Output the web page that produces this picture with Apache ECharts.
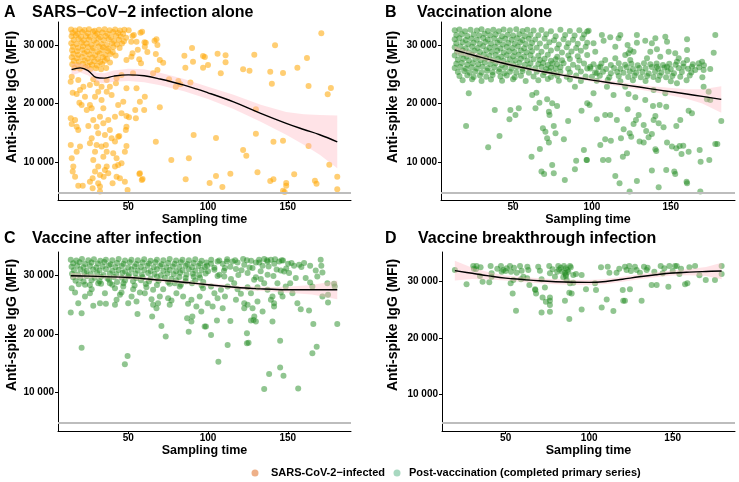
<!DOCTYPE html>
<html>
<head>
<meta charset="utf-8">
<script src="https://cdn.jsdelivr.net/npm/echarts@6/dist/echarts.min.js"></script>
<style>html,body{margin:0;padding:0;background:#fff;}#chart{width:739px;height:482px;}</style>
</head>
<body>
<div id="chart"></div>
<script>
// ---------- tick labels ----------
const xTicks = [50, 100, 150];
const yTicks = [10000, 20000, 30000];
const yTickLabels = ['10 000', '20 000', '30 000'];
const lodLevel = 4880;

const panelLetters = ['A', 'B', 'C', 'D'];
const panelTitles = ['SARS\u2212CoV\u22122 infection alone', 'Vaccination alone', 'Vaccine after infection', 'Vaccine breakthrough infection'];
const legendNames = ['SARS-CoV-2\u2212infected', 'Post-vaccination (completed primary series)'];

// ---------- Panel A: SARS-CoV-2 infection alone ----------
const aPoints = [
[14.2,32650],[16.8,32480],[19.5,32700],[22.6,32550],[25.4,32690],[28.9,32420],[31.7,32610],[35.2,32700],[38.4,32500],[41.8,32660],[44.9,32450],[47.6,32620],[50.3,32530],
[15.1,32080],[18.3,31950],[21.2,32200],[24.7,32010],[27.9,32250],[30.6,31980],[33.8,32150],[37.1,31920],[40.5,32230],[43.7,32050],[46.8,31900],
[14.5,31480],[17.2,31600],[20.4,31350],[23.5,31550],[26.1,31400],[29.4,31620],[32.6,31380],[35.9,31520],[39.2,31300],[42.4,31580],[45.3,31450],[48.7,31250],
[15.8,30870],[18.9,31020],[22.1,30800],[25.3,30950],[28.5,30750],[31.4,31050],[34.7,30820],[37.8,30970],[41.1,30700],[44.2,30900],[47.3,30650],
[14.3,30300],[17.6,30150],[20.8,30400],[23.9,30250],[26.9,30050],[30.1,30350],[33.3,30180],[36.6,30020],[39.8,30300],[42.9,30100],[46.1,30250],
[15.4,29700],[18.6,29550],[21.7,29800],[24.8,29650],[28.1,29480],[31.5,29750],[34.4,29600],[37.6,29400],[40.7,29680],[44.6,29500],
[14.8,29100],[17.9,28950],[21.3,29200],[24.2,28900],[27.4,29050],[30.8,28850],[33.9,29150],[37.2,28980],[40.3,28800],
[15.6,28500],[18.8,28350],[22.4,28600],[25.7,28400],[29.2,28250],[32.1,28550],[35.6,28300],[38.9,28450],[42.1,28200],
[14.6,27900],[17.7,27750],[21.0,27950],[24.4,27700],[27.6,27850],[31.0,27600],[34.1,27900],[36.8,27650],
[15.9,27300],[19.1,27150],[22.7,27350],[25.9,27050],[28.8,27250],[32.4,27100],[35.3,27300],[38.6,27000],
[14.9,26700],[18.2,26550],[21.6,26800],[24.6,26450],[27.3,26650],[30.4,26500],[33.6,26750],
[16.3,26100],[19.8,25950],[23.1,26200],[26.4,25900],[29.7,26050],[33.0,25850],[36.2,26100],
[53.5,31710],[58.7,32270],[51.9,30570],[60.2,30450],[66.5,30740],[56,29200],[52,28000],[58,26900],[62,28800],
[52.7,31530],[57.7,32100],[61,30390],[67.7,30970],[68.3,30000],[60.4,29720],[55.2,30560],[90,29490],[96.9,28120],[90.6,27160],
[85.2,28180],[85.8,26140],[96.9,26140],[69.8,27440],[71.9,26990],[67.3,28470],[52.7,28580],[56.9,27560],[48.9,27440],[53,25180],
[65.6,25180],[68.3,25740],[75.6,24150],[81.4,23870],[82.7,23300],[89,23600],[79.8,22900],[55.2,22620],[60.4,21190],[57.3,20340],
[69.8,19380],[54.4,18920],[60,18920],[48.9,17900],[50.5,17700],[54.8,17510],[48.9,16080],[48.5,15520],[91,14670],[44.4,14490],
[48.9,12790],[67.3,13520],[77,10400],[88,10690],[57,8020],[59,7170],[86,7110],[49.6,5290],[47.9,6710],[45.8,9840],[57.3,8130],[58.5,7000],
[171,31990],[142,29950],[106,28520],[111,28240],[111,27050],[129,28350],[162,27780],[100,26600],[98,27960],[108,25180],
[122,25860],[126,25620],[139,25450],[147,25230],[156,26140],[140,23410],[163,23010],[177,22670],[175,21600],[130,19040],
[105,14150],[130,14890],[141,13520],[147,13690],[122,12110],[124,11140],[163,12790],[176,9600],[105,7680],[114,8070],
[131,8310],[101,6480],[109,5800],[139,6830],[141,7110],[154,7970],[149,6480],[149,6030],[147,5170],[148,4960],
[167,6880],[168,6370],[181,7560],[181,5410],
[14.6,24600],[13.95,23750],[15.2,21880],[17.7,21650],[19.8,22330],[21.9,22900],[22.9,21200],[19.4,20170],[20.8,19780],[26,19780],
[27.1,19210],[24,18920],[29.2,21200],[31.2,22050],[33.3,20630],[34.4,19210],[32.3,17790],[28.1,17220],[25,16200],[30.2,16080],
[34.4,16650],[37.5,17220],[38.5,15520],[35.4,14660],[31.2,14950],[27.1,14100],[26,13250],[30.2,12960],[33.3,12680],[36,12960],
[14,17500],[14.6,16540],[17.7,16080],[18.7,15520],[16.7,17220],[14,12960],[19.8,12680],[17.7,11820],[14.6,10690],[15.6,9270],
[15.2,8420],[16.7,7560],[18.7,6030],[21.5,6030],[26,6710],[27.7,7280],[29.2,8420],[31.2,9270],[32.3,7850],[35.4,8700],
[34.6,7560],[36.5,9270],[37.5,8130],[32.3,5860],[32.3,5010],[31.2,6430],[27.7,5580],[42.7,10690],[43.7,9550],[41.7,9270],
[42.7,7560],[40.2,6430],[44.8,7280],[40.6,11540],[47.9,11820],[34.4,10970],[28.1,10400],[29.2,11820],[36.5,11820],[41.7,13530],
[43.7,14380],[39.6,14100],[41.7,17790],[45.8,18360],[43.7,19780],[46.9,20340],[48.9,22620],[38.5,22900],[36.5,22050],[39.6,21480],
[33.3,22900],[30.2,23470],[26,23180],[18.7,24040],[28.1,24150],[36.5,24040],[42.7,24320],[45.8,24890],[42.3,23470]
];
const aFitX  = [14.5, 20, 25, 30, 35, 41, 50, 60, 70, 85, 100, 116, 133, 149, 160, 170, 181];
const aFitY  = [25800, 26100, 25600, 24450, 24350, 24700, 24900, 24750, 24200, 23150, 21850, 20300, 18350, 16650, 15600, 14700, 13500];
const aFitHi = [26800, 26900, 26400, 25250, 25200, 25650, 25950, 25850, 25250, 24200, 22900, 21500, 19800, 18600, 18200, 18050, 18000];
const aFitLo = [24800, 25300, 24800, 23650, 23500, 23750, 23850, 23650, 23150, 22100, 20800, 19100, 16900, 14700, 13000, 11300, 9000];

// ---------- Panel B: Vaccination alone ----------
const bPoints = [
[13,32500],[16,32650],[19.5,32350],[23,32600],[27,32450],[30,32700],[34,32400],[37.5,32600],[41,32350],[44,32650],[48,32500],[52,32700],[56,32400],[59,32600],[63,32450],[68,32550],[74,32350],[80,32600],[86,32400],[92,32500],[97,32300],
[14,31700],[17.5,31850],[21,31550],[25,31800],[28.5,31600],[32,31900],[35.5,31650],[39,31800],[43,31500],[46.5,31750],[50,31600],[54,31850],[57.5,31550],[61,31750],[66,31650],[71,31850],[77,31500],[83,31700],[89,31600],[95,31800],
[13,31000],[16,31150],[20,30850],[23.5,31100],[27,30900],[31,31200],[34,30950],[38,31100],[41.5,30800],[45,31050],[49,30900],[52.5,31150],[56,30850],[60,31050],[64,30950],[70,31100],[76,30800],[82,31000],[88,30900],[94,31150],
[14,30300],[18,30450],[21.5,30150],[25,30400],[29,30200],[32.5,30500],[36,30250],[40,30400],[43.5,30100],[47,30350],[51,30200],[54.5,30450],[58,30150],[62,30350],[67,30250],[73,30450],[79,30100],[85,30300],[91,30200],[97,30400],
[13,29600],[16.5,29750],[20,29450],[24,29700],[27.5,29500],[31,29800],[35,29550],[38.5,29700],[42,29400],[46,29650],[49.5,29500],[53,29750],[57,29450],[61,29650],[65,29550],[71,29750],[78,29400],[84,29600],[90,29500],[96,29700],
[14.5,28900],[18,29050],[22,28750],[25.5,29000],[29,28800],[33,29100],[36.5,28850],[40,29000],[44,28700],[47.5,28950],[51,28800],[55,29050],[58.5,28750],[62,28950],[68,28850],[74,29050],[81,28700],[87,28900],[93,29000],
[13,28200],[17,28350],[20.5,28050],[24,28300],[28,28100],[31.5,28400],[35,28150],[39,28300],[42.5,28000],[46,28250],[50,28100],[53.5,28350],[57,28050],[61,28250],[66,28150],[72,28350],[78,28000],[85,28200],[91,28100],[97,28300],
[15,27500],[18.5,27650],[22,27350],[26,27600],[29.5,27400],[33,27700],[37,27450],[40.5,27600],[44,27300],[48,27550],[51.5,27400],[55,27650],[59,27350],[63,27550],[67,27450],[70,27650],[74,27300],[77,27550],[81,27400],[86,27600],[92,27350],
[14,26800],[17.5,26950],[21,26650],[24.5,26900],[28,26700],[32,27000],[35.5,26750],[39,26900],[43,26600],[46.5,26850],[50,26700],[54,26950],[57.5,26650],[61,26850],[66,26750],[69,26950],[72,26600],[75,26850],[78,26700],[82,26900],[88,26650],[95,26850],
[13,26100],[16.5,26250],[20,25950],[23.5,26200],[27,26000],[30.5,26300],[34,26050],[38,26200],[41.5,25900],[45,26150],[49,26000],[52.5,26250],[56,25950],[60,26150],[64,26050],[68,26250],[71,25900],[74,26150],[77,26000],[80,26200],[85,25950],[91,26150],[97,26000],
[15,25400],[19,25550],[22.5,25250],[26,25500],[30,25300],[33.5,25600],[37,25350],[41,25500],[44.5,25200],[48,25450],[52,25300],[56,25550],[60,25250],[65,25450],[70,25350],[73,25550],[76,25200],[80,25450],[86,25300],[93,25500],
[16,24700],[21,24850],[25,24550],[29,24800],[33,24600],[37,24900],[42,24650],[46,24800],[51,24500],[55,24750],[63,24650],[69,24850],[74,24550],[78,24750],[84,24600],[90,24800],[96,24650],
[18,24000],[24,24150],[30,23850],[36,24100],[43,23900],[50,24150],[58,23850],[66,24000],[72,24200],[79,23900],[86,24100],[93,23850],
[101,26700],[106,26850],[112,26600],[117,26900],[121,26650],[125,26800],[129,26550],[133,26900],[137,26700],[141,26850],[145,26600],[149,26800],[153,26650],[158,26900],[164,26700],[171,26550],
[99,26000],[104,26150],[109,25900],[114,26100],[118,25950],[122,26200],[126,25900],[130,26100],[134,26000],[138,26250],[142,25950],[146,26150],[150,25900],[155,26100],[161,25950],[168,26200],[175,25900],
[102,25300],[107,25450],[112,25200],[116,25400],[120,25250],[124,25500],[128,25250],[132,25400],[136,25150],[140,25450],[144,25300],[148,25500],[152,25200],[157,25400],[163,25300],
[100,24600],[105,24750],[111,24500],[117,24700],[123,24550],[127,24800],[131,24500],[135,24700],[139,24550],[143,24750],[147,24500],[151,24700],[156,24600],[162,24800],[170,24500],
[103,23900],[110,24050],[118,23800],[126,24000],[134,23850],[142,24050],[150,23800],[160,24000],
[97.9,32440],[106.3,31700],[107.4,30740],[111.6,31310],[116.9,31140],[118,31700],[122.6,30000],[124.3,29150],[126.4,28860],[123.2,28580],
[128.5,30400],[133.8,30740],[138,30280],[140.2,31140],[141.2,29260],[146.5,31420],[147.6,30570],[148.6,28860],[152.8,28580],[153.9,27160],
[160.3,29150],[160.3,30970],[178.2,31700],[177.2,28690],[167.7,26880],[170.8,25740],[169.8,27160],[155,27730],[143.3,28010],[134.9,27730],
[124.3,27440],[114.8,27730],[108.4,27440],[102.1,28860],[101,30280],[114.8,29720],[128.5,31700],[121.1,28300],[137,28860],[160.3,27440],
[163.4,26310],[165.5,25740],[158.1,26310],[147.6,26310],[141.2,26310],[105.3,26310],[98.9,26310],[103.1,25170],
[170.8,22900],[174,22050],[153.9,23470],[146.5,21760],[139.1,22330],[133.8,20630],[127.5,21080],[123.2,21650],[113.7,21480],[121.1,22900],[101,21760],[109.5,22900],
[21.9,21760],[20.2,16200],[38.4,18920],[34.2,12560],[41.4,14490],[48.3,18920],[47.7,17330],[51.5,18070],[53.6,19210],[61.7,10970],
[64.2,19210],[66.7,20170],[62.1,21480],[64.8,21880],[68.9,15800],[70.5,15230],[71.6,14100],[72.7,13360],[75.8,16200],[76.9,14950],
[82.2,13930],[67,12280],[84.9,17050],[68,8420],[69.7,8020],[74.8,9550],[75.8,8130],[82.8,7000],[72.7,18640],[73.1,18070],
[74.8,20060],[77.9,19610],[71.6,20740],[89.2,22900],[90,10290],[89.2,8810],[94.9,12110],[96.6,10400],[93.4,18810],[97,20060],
[98.5,19780],[108.4,18070],[111.6,18070],[103.1,17330],[115.8,17220],[122.6,19040],[126.4,16540],[127.9,17220],[129.6,18070],[132.8,16370],
[134.4,15350],[139.1,17220],[140.2,17900],[142.3,16650],[145.4,15970],[147.1,19490],[142.9,19780],[138.7,19610],[153.5,16200],[156,17220],
[161.3,18810],[163.4,18360],[172.9,20740],[175,20630],[182,17050],[120.1,15630],[123.9,14950],[124.9,14380],[130.2,13530],[132.8,13360],
[135.9,14260],[138,14830],[140.2,12220],[140.8,11940],[147.6,13360],[150.7,12680],[153.5,12390],[155.6,12790],[161.3,11820],[168.3,12110],
[178.2,13130],[105.3,12960],[108.4,13930],[112,13700],[118.4,14100],[96.8,10400],[107,10400],[110.5,10400],[119.6,10970],[122.2,11540],
[114.8,7680],[117.5,6430],[123.9,5010],[128.5,6830],[138,8590],[142.3,5750],[147.1,8700],[152.2,8420],[152.8,8020],[160.3,6430],
[168.7,5010],[174.4,10400],[157.9,12840],[156.8,11430],[168.9,10120],[179.5,13130],[160,6710]
];
const bFitX  = [13, 25, 40, 55, 70, 85, 100, 115, 130, 145, 160, 170, 182];
const bFitY  = [29150, 28250, 27150, 26200, 25400, 24700, 24020, 23420, 22830, 22230, 21640, 21240, 20740];
const bFitHi = [29800, 28700, 27500, 26500, 25700, 25000, 24320, 23770, 23230, 22780, 22440, 22440, 22950];
const bFitLo = [28500, 27800, 26800, 25900, 25100, 24400, 23720, 23070, 22430, 21680, 20840, 20040, 18450];

// ---------- Panel C: Vaccine after infection ----------
const cPoints = [
[14,32700],[17.5,32550],[21,32800],[25,32600],[28.5,32750],[32.5,32500],[36,32700],[40,32620],[44,32800],[48,32550],[52,32700],[56,32600],[60,32780],[64,32520],[68,32700],[72,32600],[76,32800],[80,32550],[84,32700],[88,32600],[92,32750],[96,32500],
[15.5,32100],[19.5,32250],[23,31950],[27,32200],[31,32050],[35,32300],[39,31900],[43,32150],[47,32000],[51,32250],[55,31950],[59,32200],[63,32050],[67,32250],[71,31900],[75,32150],[79,32000],[83,32250],[87,31950],[91,32150],[95,32050],[99,32200],
[14.5,31500],[18,31650],[22,31400],[26,31600],[30,31350],[34,31550],[38,31700],[42,31400],[46,31600],[50,31350],[54,31550],[58,31450],[62,31650],[66,31400],[70,31600],[74,31350],[78,31550],[82,31450],[86,31650],[90,31400],[94,31600],[98,31450],
[16,30900],[20,31050],[24,30750],[28,31000],[32,30850],[36,31050],[40,30800],[44,30950],[48,30700],[52,31000],[56,30850],[60,30950],[64,30750],[68,31050],[72,30800],[76,30950],[80,30700],[84,30900],[88,31050],[92,30800],[96,30950],
[14.8,30300],[18.5,30150],[22.5,30450],[26.5,30200],[30.5,30400],[34.5,30100],[38.5,30350],[42.5,30200],[46.5,30450],[50.5,30150],[54.5,30350],[58.5,30100],[62.5,30400],[66.5,30250],[70.5,30050],[74.5,30350],[78.5,30200],[82.5,30450],[86.5,30150],[90.5,30300],[94.5,30100],[98.5,30350],
[15.5,29700],[20,29550],[24,29850],[29,29600],[33,29800],[37,29500],[41,29750],[46,29600],[50,29850],[55,29550],[59,29700],[64,29500],[68,29800],[73,29600],[77,29450],[82,29750],[86,29550],[91,29800],[95,29600],
[17,29100],[22,28950],[27,29200],[32,29000],[38,29250],[43,28900],[48,29150],[53,29000],[58,29200],[63,28950],[69,29100],[75,28900],[80,29200],[86,29000],[92,29150],[97,28900],
[19,28500],[26,28350],[33,28600],[40,28400],[47,28650],[54,28300],[61,28550],[68,28350],[76,28600],[83,28400],[90,28650],[96,28300],
[102,32700],[107,32550],[112,32750],[117,32600],[122,32800],[127,32500],[132,32700],[137,32600],[142,32750],[147,32550],
[104,31300],[114,31500],[126,31350],[138,31550],[149,31200],[100,30700],[110,30800],[121,30900],[133,30700],[143,31000],
[106,29900],[119,30100],[130,29700],[141,29900],
[14.6,27830],[16.7,27090],[18.7,25260],[22.9,26410],[26,26980],[28.1,24810],[32.3,25260],[36,25150],[35.4,26980],[27.1,27660],
[41.7,27830],[44.8,26690],[45.8,27090],[42.7,25830],[41.7,24980],[50,25260],[52.1,26410],[55.2,25550],[60.4,26980],[61.4,28000],
[64.6,25950],[65.6,24980],[67.7,24410],[68.7,25260],[69.8,26410],[71.9,27660],[75,26120],[77.1,25720],[76,24980],[80.2,26980],
[82.3,28120],[84.4,26410],[87.5,25150],[89.6,25830],[92.7,24690],[94.8,26410],[96.9,27830],[95.8,23840],[57.3,27090],[46.9,28120],
[38.5,28690],[31.2,28690],[22.9,28410],[53.1,27660],[65.6,27550],[79.2,28690],
[14,23660],[20.8,23550],[20.8,17660],[47.9,14810],[49.6,16230],[55.8,23430],[65,22980],[70.8,21380],[73.5,19550],[86.9,22690],
[90.2,22980],[87.9,20400],[97.9,21260],[89.6,22120],
[181,21720],[166,21720],[158.1,24230],[163.3,24000],[140.4,22120],[126.9,22290],[130,22120],[124.4,20120],[124.4,18410],[125.4,18520],
[112.3,18120],[106.5,15260],[101.9,19830],[98.7,21260],[114,22230],[105.6,22290],[145.2,18860],[145.2,14290],[138.3,13150],[147.3,12860],
[135.2,10580],[156.5,10690],[168.1,17830],[165.4,16690],[171.7,30520],[167.5,30860],[174.8,28690],[175.2,26690],[175.2,25380],[179,28580],
[179.4,28120],[170.6,32690],[171,31660],[164,31660],[160.2,32120],[157.1,31830],[158.5,31430],[153.9,31660],[152.3,32120],[147.7,30690],
[145.6,30860],[146.2,32580],[141.5,32000],[144.6,32400],[139.4,32690],[137.3,32400],[134.2,31660],[135.2,32800],[132.1,32230],[130,32230],
[124.4,32580],[122.7,31830],[118.5,32230],[115.4,32400],[111.9,32400],[109.2,32000],[106,32400],[101.9,32000],[99.4,31660],[104,30970],
[110.6,31260],[117.5,31090],[127.9,31260],[150.2,32000],[155,29550],[161.2,29550],[164,28810],[151.5,28690],[148.7,28120],[145.6,27090],
[143.5,28690],[140.4,26410],[141.4,25260],[139.4,25830],[137.3,27550],[135.2,28690],[133.1,29380],[131,28000],[128.9,29260],[126.9,26980],
[124.8,28000],[122.7,25260],[120.6,26860],[118.5,27660],[116.4,28690],[114.4,29380],[112.3,28120],[110.2,29830],[108.1,27550],[106,26120],
[104,26980],[101.9,28120],[99.8,25260],[102.9,24690],[109.2,24410],[117.5,25830],[124.8,24980],[127.9,24410],[131,25550],[134.2,23840],
[141.4,24690],[146.7,26410],[152.9,26980],[156,25260],[165.4,28120],[168.5,29830],[171.7,26410],[129,22980],[128.5,22400],[122.7,24410],
[110.6,26410],[107.1,30120],[124.8,30400],[137.3,30120],[150.8,30400]
];
const cFitX  = [14, 25, 35, 50, 60, 70, 80, 90, 100, 110, 120, 130, 140, 150, 165, 181];
const cFitY  = [29950, 29880, 29800, 29650, 29450, 29200, 28980, 28700, 28420, 28150, 27900, 27750, 27640, 27560, 27550, 27550];
const cFitHi = [30450, 30230, 30100, 29950, 29750, 29500, 29280, 29000, 28720, 28450, 28200, 28100, 28040, 28060, 28350, 29150];
const cFitLo = [29450, 29530, 29500, 29350, 29150, 28900, 28680, 28400, 28120, 27850, 27600, 27400, 27240, 27060, 26750, 25950];

// ---------- Panel D: Vaccine breakthrough infection ----------
const dPoints = [
[19.6,32090],[26.6,29530],[30.6,32800],[32.6,32800],[32.2,32210],[34.6,31020],[36.2,30010],[40.2,29890],[41,32800],[41.6,31490],
[41.6,30900],[47.2,32800],[48.6,32090],[47.6,31790],[50.6,32390],[52.6,32800],[53.2,31790],[53,29710],[54.2,27920],[56.2,24830],
[54.6,30300],[56.6,31610],[58.6,32800],[59.2,30420],[63,32680],[63.6,32090],[64.2,29410],[60.6,30900],[67.6,28640],[68.2,27920],
[69.5,32680],[70.5,31970],[71.5,30420],[72.1,27210],[74.1,26430],[71.5,24530],[73.5,28990],[76.1,32800],[76.5,31490],[76.5,27210],
[76.5,26610],[76.5,25840],[76.5,24650],[78.1,32210],[79.5,30900],[81.5,32800],[80.9,31790],[84.9,32800],[86.1,32390],[85.5,31610],
[84.5,30780],[86.5,30300],[87.5,31790],[86.1,31020],[88.5,29710],[89.5,27920],[85.5,26610],[88.1,28040],[88.1,23340],[90.5,31200],
[92.1,31380],[95.5,31200],[90.5,29830],[95.5,25070],[98.1,28640],[103.5,29710],[104.1,28520],[107.1,32560],[107.5,25420],[110.5,26850],
[111.1,32680],[112.1,31610],[114.5,24770],[116.4,31610],[120.1,28520],[120.4,26610],[121.4,26610],[121.4,32680],[122.4,32090],[124.4,28640],
[124,32800],[127.4,32680],[128.4,32090],[130.4,31610],[131.4,26610],[132.8,32680],[134.4,32090],[137.4,29410],[140.4,29410],[142.8,32800],
[144,31490],[147.4,29120],[148,32800],[151.4,32800],[152.4,32800],[154,31380],[157.4,29530],[158.8,29710],[160,32560],[163.4,32800],
[166,31140],[175.3,30300],[179.3,32800],[179.3,31380],
[59.6,31960],[62.9,30600],[67.8,28510],[169.8,30300],
[83,32500],[87,32100],[89,32600],[86,31300],[82,32200],[88.5,32800],[84,31800],[31,32300],[35,32600],[45,32300],
[50,31900],[55,32500],[118,32300],[125,31900],[135,32500],[139,31800],[145,32400],[150,31900],[155,32300]
];
const dFitX  = [19.6, 30, 40, 50, 60, 70, 80, 90, 100, 110, 120, 130, 140, 150, 160, 170, 179.3];
const dFitY  = [31970, 31500, 31050, 30650, 30400, 30170, 30000, 29900, 29880, 30050, 30450, 30880, 31250, 31550, 31720, 31830, 31910];
const dFitHi = [33750, 32500, 31700, 31100, 30850, 30620, 30450, 30350, 30330, 30500, 30900, 31330, 31700, 32000, 32270, 32630, 33400];
const dFitLo = [30200, 30500, 30400, 30200, 29950, 29720, 29550, 29450, 29430, 29600, 30000, 30430, 30800, 31100, 31170, 31030, 30420];

// ---------- layout & styling ----------
const FONT = 'Liberation Sans, Arial, Helvetica, sans-serif';
const ORANGE = 'rgba(255,165,0,0.55)';
const GREEN = 'rgba(34,139,34,0.5)';
const BAND = 'rgba(255,182,193,0.38)';

const panels = [
  {grid:{left:58, top:22, width:293, height:178}, x:[6,189.6], y:[3580,33920], pts:aPoints, color:ORANGE, fx:aFitX, fy:aFitY, hi:aFitHi, lo:aFitLo, name:legendNames[0]},
  {grid:{left:441, top:22, width:294, height:178}, x:[4.3,190.7], y:[3580,33920], pts:bPoints, color:GREEN, fx:bFitX, fy:bFitY, hi:bFitHi, lo:bFitLo, name:legendNames[1]},
  {grid:{left:58, top:252, width:293, height:179}, x:[6,189.6], y:[3420,34010], pts:cPoints, color:GREEN, fx:cFitX, fy:cFitY, hi:cFitHi, lo:cFitLo, name:legendNames[1]},
  {grid:{left:442, top:252, width:293, height:179}, x:[11.9,187.3], y:[3390,35300], pts:dPoints, color:GREEN, fx:dFitX, fy:dFitY, hi:dFitHi, lo:dFitLo, name:legendNames[1]}
];
const titlePos = [[4,32,13],[385,417,13],[4,32,239],[385,418,239]];
const yTitlePos = [[12.5,97],[393,97],[12.5,325],[393,325]];

const grids = [], xAxes = [], yAxes = [], series = [], graphics = [];
panels.forEach((p, i) => {
  grids.push(Object.assign({containLabel:false}, p.grid));
  xAxes.push({
    type:'value', gridIndex:i, min:p.x[0], max:p.x[1],
    axisLine:{show:true, onZero:false, lineStyle:{color:'#000', width:1}},
    axisTick:{show:true, length:3, customValues:xTicks, lineStyle:{color:'#000', width:1}},
    axisLabel:{show:true, customValues:xTicks, margin:2, fontSize:10, fontWeight:'bold', color:'#000', fontFamily:FONT},
    splitLine:{show:false},
    name:'Sampling time', nameLocation:'middle', nameGap:13,
    nameTextStyle:{fontSize:12.5, fontWeight:'bold', color:'#000', fontFamily:FONT}
  });
  yAxes.push({
    type:'value', gridIndex:i, min:p.y[0], max:p.y[1],
    axisLine:{show:true, onZero:false, lineStyle:{color:'#000', width:1}},
    axisTick:{show:true, length:3, customValues:yTicks, lineStyle:{color:'#000', width:1}},
    axisLabel:{show:true, customValues:yTicks, margin:4, fontSize:10, fontWeight:'bold', color:'#000', fontFamily:FONT,
      formatter:(v) => { const k = yTicks.indexOf(v); return k >= 0 ? yTickLabels[k] : ''; }},
    splitLine:{show:false}
  });
  series.push({
    type:'scatter', name:p.name, xAxisIndex:i, yAxisIndex:i, data:p.pts, symbol:'circle', symbolSize:6,
    itemStyle:{color:p.color, opacity:1, borderWidth:0}, z:2, silent:true, animation:false,
    markLine:{silent:true, symbol:['none','none'], label:{show:false}, animation:false,
      lineStyle:{color:'#bdbdbd', width:2, type:'solid'}, data:[{yAxis:lodLevel}]}
  });
  series.push({
    type:'custom', xAxisIndex:i, yAxisIndex:i, silent:true, z:3, clip:true, animation:false,
    data:[[p.fx[0], p.hi[0]]],
    renderItem:(params, api) => {
      const pts = [];
      for (let k = 0; k < p.fx.length; k++) pts.push(api.coord([p.fx[k], p.hi[k]]));
      for (let k = p.fx.length - 1; k >= 0; k--) pts.push(api.coord([p.fx[k], p.lo[k]]));
      return {type:'polygon', shape:{points:pts}, style:{fill:BAND}};
    }
  });
  series.push({
    type:'line', xAxisIndex:i, yAxisIndex:i, data:p.fx.map((x, k) => [x, p.fy[k]]), smooth:0.4,
    showSymbol:false, symbol:'none', lineStyle:{color:'#000', width:1.4}, z:4, silent:true, animation:false
  });
  graphics.push({type:'text', x:titlePos[i][0], y:titlePos[i][2], style:{text:panelLetters[i], font:'bold 16px ' + FONT, fill:'#000', verticalAlign:'middle', align:'left'}});
  graphics.push({type:'text', x:titlePos[i][1], y:titlePos[i][2], style:{text:panelTitles[i], font:'bold 16px ' + FONT, fill:'#000', verticalAlign:'middle', align:'left'}});
  graphics.push({type:'text', x:yTitlePos[i][0], y:yTitlePos[i][1], rotation:Math.PI/2,
    style:{text:'Anti-spike IgG (MFI)', font:'bold 14px ' + FONT, fill:'#000', align:'center', verticalAlign:'middle'}});
});

// legend
graphics.push({type:'circle', shape:{cx:255, cy:473, r:3.5}, style:{fill:'#EEB088'}});
graphics.push({type:'text', x:271, y:473, style:{text:legendNames[0], font:'bold 11px ' + FONT, fill:'#000', verticalAlign:'middle'}});
graphics.push({type:'circle', shape:{cx:397, cy:473, r:3.5}, style:{fill:'#A8D8C0'}});
graphics.push({type:'text', x:409, y:473, style:{text:legendNames[1], font:'bold 11px ' + FONT, fill:'#000', verticalAlign:'middle'}});

const chart = echarts.init(document.getElementById('chart'), null, {renderer:'canvas'});
chart.setOption({
  backgroundColor:'#fff', animation:false,
  grid:grids, xAxis:xAxes, yAxis:yAxes, series:series, graphic:graphics
});
</script>
</body>
</html>
